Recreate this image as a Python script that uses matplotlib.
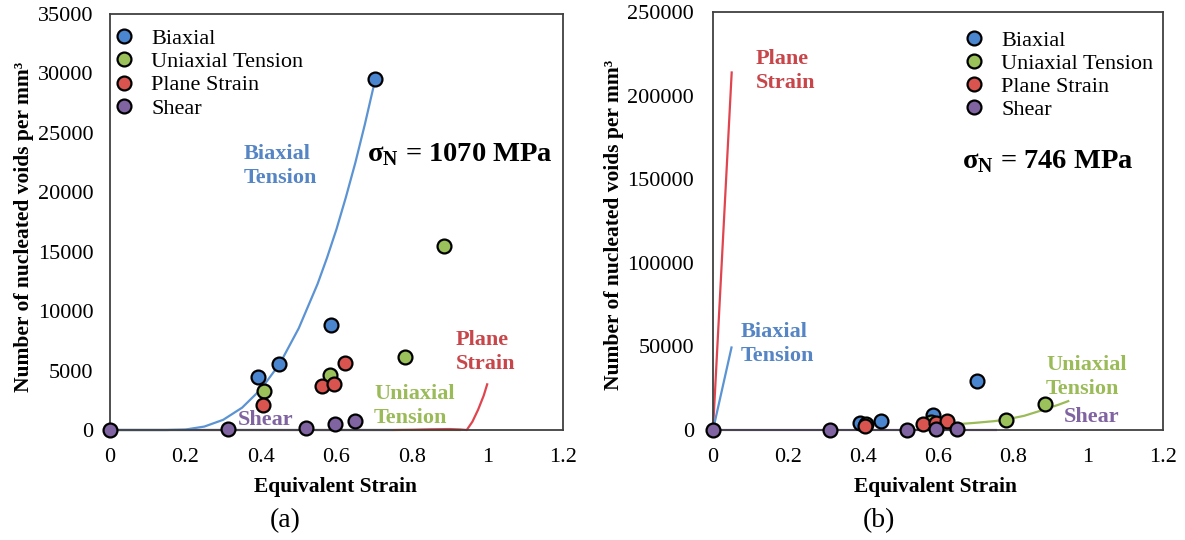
import matplotlib
matplotlib.use("Agg")
import matplotlib.pyplot as plt

# ================== DATA ==================
# measured points (same in both panels)
biax_x = [0.392, 0.449, 0.586, 0.703]
biax_y = [4420, 5590, 8810, 29550]
uni_x = [0.408, 0.582, 0.782, 0.885]
uni_y = [3290, 4650, 6110, 15470]
plane_x = [0.405, 0.561, 0.594, 0.623]
plane_y = [2120, 3670, 3900, 5640]
shear_x = [0.0, 0.312, 0.518, 0.595, 0.650]
shear_y = [0, 90, 200, 490, 730]

# model curves, panel (a)  sigma_N = 1070 MPa
curve_a_biax_x = [0.0, 0.15, 0.20, 0.25, 0.30, 0.35, 0.40, 0.45, 0.50, 0.55,
                  0.575, 0.60, 0.625, 0.65, 0.675, 0.703]
curve_a_biax_y = [0, 0, 40, 290, 860, 1880, 3440, 5590, 8560, 12300,
                  14500, 16900, 19600, 22500, 25700, 29550]
curve_a_uni_x = [0.0, 0.93]
curve_a_uni_y = [0, 0]
curve_a_plane_x = [0.75, 0.80, 0.85, 0.90, 0.93, 0.945, 0.96, 0.975, 0.99, 1.0]
curve_a_plane_y = [0, 20, 60, 80, 40, 0, 700, 1700, 2900, 3930]
curve_a_shear_x = [0.0, 0.75]
curve_a_shear_y = [0, 0]

# model curves, panel (b)  sigma_N = 746 MPa
curve_b_biax_x = [0.0, 0.05]
curve_b_biax_y = [0, 50000]
curve_b_uni_x = [0.654, 0.70, 0.75, 0.78, 0.83, 0.88, 0.92, 0.95]
curve_b_uni_y = [3500, 4300, 5300, 6200, 8500, 12000, 15000, 17500]
curve_b_plane_x = [0.0, 0.05]
curve_b_plane_y = [0, 214500]
curve_b_shear_x = [0.0, 0.756]
curve_b_shear_y = [0, 0]

x_ticks = [0, 0.2, 0.4, 0.6, 0.8, 1.0, 1.2]
x_tick_labels = ["0", "0.2", "0.4", "0.6", "0.8", "1", "1.2"]
y_ticks_a = [0, 5000, 10000, 15000, 20000, 25000, 30000, 35000]
y_ticks_b = [0, 50000, 100000, 150000, 200000, 250000]

series_names = ["Biaxial", "Uniaxial Tension", "Plane Strain", "Shear"]

# ================== STYLE ==================
plt.rcParams["font.family"] = ["Liberation Serif", "DejaVu Serif"]

W, H = 1185, 540
mark_col = ["#4A86CF", "#9BC25A", "#D9534F", "#8064A2"]
line_col = ["#5B93D3", "#9BBB59", "#E0454F", "#8A6BC0"]
txt_col = ["#5585C5", "#9BBB59", "#C8454A", "#8064A2"]


def fx(px):
    return px / W


def fy(py):
    return 1 - py / H


fig = plt.figure(figsize=(W / 100, H / 100), dpi=100)
ax_a = fig.add_axes([fx(110), fy(430), (563 - 110) / W, (430 - 14) / H])
ax_b = fig.add_axes([fx(713), fy(430), (1163 - 713) / W, (430 - 12) / H])

pts = [(biax_x, biax_y), (uni_x, uni_y), (plane_x, plane_y), (shear_x, shear_y)]


def draw_panel(ax, curves, yticks, ytick_pad):
    # curves first, markers on top
    for (cx, cy), c in curves:
        ax.plot(cx, cy, color=c, lw=1.6, zorder=2, clip_on=False, solid_capstyle="butt")
    handles = []
    for (px, py), c, name in zip(pts, mark_col, series_names):
        h, = ax.plot(px, py, ls="none", marker="o", ms=10, mfc=c, mec="black",
                     mew=1.6, zorder=4, clip_on=False, label=name)
        handles.append(h)
    ax.set_xlim(0, 1.2)
    ax.set_ylim(0, yticks[-1])
    ax.set_xticks(x_ticks)
    ax.set_xticklabels(x_tick_labels)
    ax.set_yticks(yticks)
    ax.set_yticklabels([str(v) for v in yticks])
    ax.tick_params(axis="x", length=0, pad=13, labelsize=16)
    ax.tick_params(axis="y", length=0, pad=ytick_pad, labelsize=16)
    for s in ax.spines.values():
        s.set_color("#404040")
        s.set_linewidth(1.3)
    ax.set_xlabel("Equivalent Strain", fontsize=15.5, fontweight="bold")
    ax.set_ylabel("Number of nucleated voids per mm³", fontsize=15.5, fontweight="bold")
    return handles


curves_a = [((curve_a_uni_x, curve_a_uni_y), line_col[1]),
            ((curve_a_plane_x, curve_a_plane_y), line_col[2]),
            ((curve_a_shear_x, curve_a_shear_y), line_col[3]),
            ((curve_a_biax_x, curve_a_biax_y), line_col[0])]
curves_b = [((curve_b_uni_x, curve_b_uni_y), line_col[1]),
            ((curve_b_shear_x, curve_b_shear_y), line_col[3]),
            ((curve_b_plane_x, curve_b_plane_y), line_col[2]),
            ((curve_b_biax_x, curve_b_biax_y), line_col[0])]

h_a = draw_panel(ax_a, curves_a, y_ticks_a, 12)
h_b = draw_panel(ax_b, curves_b, y_ticks_b, 13.5)

ax_a.xaxis.set_label_coords((336 - 110) / 453, -(477 - 430) / 416)
ax_b.xaxis.set_label_coords((936 - 713) / 450, -(477 - 430) / 418)
ax_a.yaxis.set_label_coords((34 - 110) / 453, (430 - 227) / 416)
ax_b.yaxis.set_label_coords((624 - 713) / 450, (430 - 225) / 418)

leg_kw = dict(frameon=False, fontsize=16, borderpad=0, borderaxespad=0,
              handlelength=1.0, labelspacing=0.12, handletextpad=0.72)
ax_a.legend(handles=h_a, loc="upper left", bbox_to_anchor=(fx(112.9), fy(28.5)),
            bbox_transform=fig.transFigure, **leg_kw)
ax_b.legend(handles=h_b, loc="upper left", bbox_to_anchor=(fx(962.9), fy(30)),
            bbox_transform=fig.transFigure, **leg_kw)

# ================== LABELS ==================
lab_kw = dict(fontsize=16, fontweight="bold", ha="left", va="center", linespacing=1.3)

# panel (a)
fig.text(fx(244), fy(166), "Biaxial\nTension", color=txt_col[0], **lab_kw)
fig.text(fx(456), fy(352), "Plane\nStrain", color=txt_col[2], **lab_kw)
fig.text(fx(374), fy(406), "Uniaxial\nTension", color=txt_col[1], **lab_kw)
fig.text(fx(238), fy(420), "Shear", color=txt_col[3], **lab_kw)
fig.text(fx(367), fy(155), r"σ$_\mathregular{N}$ = 1070 MPa", fontsize=20.5,
         fontweight="bold", ha="left", va="center")

# panel (b)
fig.text(fx(756), fy(71), "Plane\nStrain", color=txt_col[2], **lab_kw)
fig.text(fx(741), fy(344), "Biaxial\nTension", color=txt_col[0], **lab_kw)
fig.text(fx(1046), fy(377), "Uniaxial\nTension", color=txt_col[1], **lab_kw)
fig.text(fx(1064), fy(417), "Shear", color=txt_col[3], **lab_kw)
fig.text(fx(962), fy(162), r"σ$_\mathregular{N}$ = 746 MPa", fontsize=20.5,
         fontweight="bold", ha="left", va="center")

fig.text(fx(285), fy(521), "(a)", fontsize=20, ha="center", va="center")
fig.text(fx(879), fy(521), "(b)", fontsize=20, ha="center", va="center")

fig.savefig("out.png", dpi=100)
